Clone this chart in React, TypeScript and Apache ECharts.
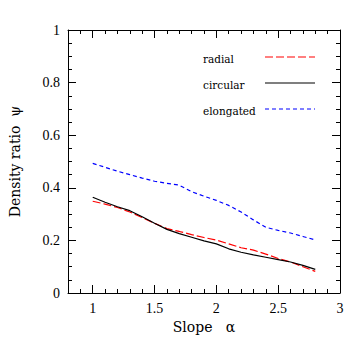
import React, { useEffect, useRef } from "react";
import * as echarts from "echarts";

const slopes = [1.0, 1.1, 1.2, 1.3, 1.4, 1.5, 1.6, 1.7, 1.8, 1.9, 2.0, 2.1, 2.2, 2.3, 2.4, 2.5, 2.6, 2.7, 2.8];
const radial = [0.349, 0.338, 0.325, 0.308, 0.287, 0.265, 0.245, 0.234, 0.222, 0.211, 0.201, 0.187, 0.172, 0.163, 0.148, 0.131, 0.118, 0.1, 0.082];
const circular = [0.364, 0.345, 0.328, 0.313, 0.29, 0.265, 0.242, 0.226, 0.212, 0.198, 0.187, 0.168, 0.155, 0.145, 0.136, 0.127, 0.118, 0.105, 0.09];
const elongated = [0.493, 0.478, 0.463, 0.45, 0.437, 0.425, 0.417, 0.41, 0.385, 0.368, 0.352, 0.333, 0.308, 0.278, 0.25, 0.238, 0.228, 0.215, 0.202];
const xMajorTicks = [1, 1.5, 2, 2.5, 3];
const xMinorTicks = [0.9, 1.1, 1.2, 1.3, 1.4, 1.6, 1.7, 1.8, 1.9, 2.1, 2.2, 2.3, 2.4, 2.6, 2.7, 2.8, 2.9];
const legendNames = ["radial", "circular", "elongated"];

const digitFont = "Liberation Serif";
const textFont = "DejaVu Serif";

export default function App() {
  const ref = useRef<HTMLDivElement>(null);
  useEffect(() => {
    if (!ref.current) return;
    const chart = echarts.init(ref.current, null, { renderer: "svg" });
    const pairs = (ys: number[]) => slopes.map((x, i) => [x, ys[i]]);
    const axisLine = { show: true, onZero: false, lineStyle: { color: "#000", width: 1 } };
    const xBase = (position: string, ticks: number[], len: number, labels: boolean, lineShow: boolean) => ({
      type: "value",
      position,
      min: 0.8,
      max: 3,
      axisLine: { ...axisLine, show: lineShow },
      axisTick: { show: true, inside: true, length: len, customValues: ticks, lineStyle: { color: "#000", width: 1 } },
      axisLabel: labels
        ? { show: true, customValues: xMajorTicks, color: "#000", fontFamily: digitFont, fontSize: 14, margin: 8, formatter: (v: number) => String(v) }
        : { show: false },
      splitLine: { show: false },
    });
    const yBase = (position: string, labels: boolean) => ({
      type: "value",
      position,
      min: 0,
      max: 1,
      interval: 0.2,
      axisLine,
      axisTick: { show: true, inside: true, length: 8, lineStyle: { color: "#000", width: 1 } },
      minorTick: { show: true, splitNumber: 4, length: 4, lineStyle: { color: "#000", width: 1 } },
      axisLabel: labels
        ? { show: true, color: "#000", fontFamily: digitFont, fontSize: 14, margin: 8, formatter: (v: number) => String(v) }
        : { show: false },
      splitLine: { show: false },
    });
    const legendY = [57, 83, 109];
    const legendColors = ["#ff0000", "#000000", "#0000ff"];
    const legendDash: any[] = [[8, 3], "solid", [4, 3]];
    const graphic: any[] = [];
    legendNames.forEach((name, i) => {
      graphic.push({
        type: "text",
        left: 203,
        top: legendY[i] - 4,
        style: { text: name, fontFamily: textFont, fontSize: 10.5, fill: "#000" },
      });
      graphic.push({
        type: "line",
        shape: { x1: 265, y1: legendY[i], x2: 315, y2: legendY[i] },
        style: { stroke: legendColors[i], lineWidth: 1.2, lineDash: legendDash[i] === "solid" ? null : legendDash[i] },
      });
    });
    chart.setOption({
      animation: false,
      backgroundColor: "#fff",
      grid: { left: 65, right: 19, top: 30, bottom: 66, containLabel: false },
      xAxis: [
        {
          ...xBase("bottom", xMajorTicks, 8, true, true),
          name: "Slope   \u03b1",
          nameLocation: "middle",
          nameGap: 26,
          nameTextStyle: { color: "#000", fontFamily: textFont, fontSize: 14 },
        },
        xBase("bottom", xMinorTicks, 4, false, false),
        xBase("top", xMajorTicks, 8, false, true),
        xBase("top", xMinorTicks, 4, false, false),
      ],
      yAxis: [
        {
          ...yBase("left", true),
          name: "Density ratio  \u03c8",
          nameLocation: "middle",
          nameGap: 46,
          nameTextStyle: { color: "#000", fontFamily: textFont, fontSize: 14 },
        },
        yBase("right", false),
      ],
      graphic,
      series: [
        {
          name: legendNames[0],
          type: "line",
          data: pairs(radial),
          showSymbol: false,
          symbol: "none",
          lineStyle: { color: legendColors[0], width: 1.2, type: [8, 3] },
          xAxisIndex: 0,
          yAxisIndex: 0,
        },
        {
          name: legendNames[1],
          type: "line",
          data: pairs(circular),
          showSymbol: false,
          symbol: "none",
          lineStyle: { color: legendColors[1], width: 1.2, type: "solid" },
          xAxisIndex: 0,
          yAxisIndex: 0,
        },
        {
          name: legendNames[2],
          type: "line",
          data: pairs(elongated),
          showSymbol: false,
          symbol: "none",
          lineStyle: { color: legendColors[2], width: 1.2, type: [4, 3] },
          xAxisIndex: 0,
          yAxisIndex: 0,
        },
      ],
    });
    return () => chart.dispose();
  }, []);
  return <div ref={ref} style={{ position: "fixed", left: 0, top: 0, width: 359, height: 359 }} />;
}
